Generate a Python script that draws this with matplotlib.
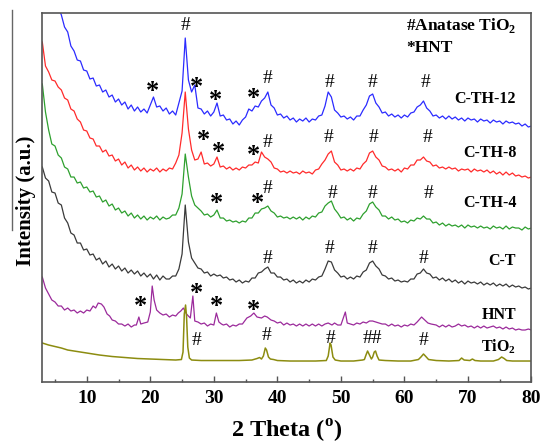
import numpy as np
import matplotlib
matplotlib.use("Agg")
import matplotlib.pyplot as plt
from matplotlib.lines import Line2D
from matplotlib.ticker import MultipleLocator

plt.rcParams['font.family'] = ['Liberation Serif', 'DejaVu Serif']
plt.rcParams['mathtext.fontset'] = 'custom'
plt.rcParams['mathtext.rm'] = 'Liberation Serif'
plt.rcParams['mathtext.bf'] = 'Liberation Serif:bold'

# ---- 2-theta scan grid for the composite samples (0.5 deg step) ----
theta = np.arange(3.0, 80.01, 0.5)

c_th_12 = [442, 428, 419, 402, 394, 375, 367, 355, 350, 336,
           331, 322, 321, 312, 311, 303, 304, 296, 297, 290,
           292, 285, 287, 280, 283, 277, 280, 273, 277, 271,
           275, 270, 273, 269, 277, 285, 275, 276, 271, 274,
           268, 271, 267, 279, 291, 344, 302, 290, 297, 274,
           273, 268, 271, 266, 270, 279, 266, 267, 262, 263,
           258, 261, 257, 262, 265, 273, 271, 276, 275, 281,
           284, 290, 277, 274, 267, 268, 264, 266, 262, 264,
           260, 263, 261, 264, 260, 263, 262, 266, 267, 276,
           290, 285, 272, 269, 265, 266, 263, 265, 262, 266,
           266, 272, 277, 286, 288, 279, 275, 269, 270, 266,
           268, 265, 267, 264, 267, 265, 269, 270, 275, 277,
           281, 274, 271, 266, 267, 264, 266, 263, 266, 263,
           265, 262, 264, 261, 264, 262, 263, 260, 263, 261,
           262, 259, 262, 260, 261, 258, 261, 259, 260, 258,
           259, 256, 258, 255, 256]

c_th_8 = [340, 316, 310, 302, 301, 295, 292, 284, 282, 273,
          271, 263, 260, 252, 251, 244, 243, 236, 236, 230,
          232, 226, 227, 221, 223, 217, 220, 214, 217, 212,
          215, 211, 214, 210, 213, 211, 214, 210, 213, 211,
          214, 213, 219, 227, 249, 290, 253, 232, 222, 223,
          230, 218, 219, 216, 218, 225, 215, 216, 213, 215,
          212, 214, 212, 215, 214, 217, 217, 220, 219, 230,
          225, 223, 220, 214, 213, 210, 211, 209, 211, 209,
          210, 208, 211, 209, 210, 208, 212, 213, 218, 222,
          228, 231, 220, 217, 212, 213, 211, 213, 211, 214,
          213, 218, 221, 229, 231, 225, 222, 216, 215, 212,
          213, 211, 213, 210, 214, 213, 217, 217, 222, 222,
          225, 221, 220, 216, 217, 214, 215, 213, 215, 213,
          214, 211, 213, 212, 213, 210, 213, 211, 212, 210,
          212, 209, 211, 208, 210, 207, 210, 207, 209, 206,
          207, 205, 206, 204, 205]

c_th_4 = [298, 270, 252, 238, 236, 227, 224, 215, 213, 205,
          205, 199, 200, 194, 195, 190, 191, 185, 186, 180,
          182, 176, 178, 172, 174, 169, 171, 166, 169, 164,
          167, 163, 166, 162, 165, 163, 166, 162, 165, 163,
          164, 167, 167, 174, 188, 228, 205, 186, 177, 174,
          171, 167, 168, 165, 167, 172, 164, 164, 161, 162,
          160, 161, 159, 161, 160, 164, 164, 169, 169, 173,
          174, 176, 171, 169, 165, 166, 164, 165, 163, 165,
          163, 165, 162, 165, 163, 166, 165, 169, 170, 176,
          179, 181, 173, 169, 164, 165, 162, 164, 161, 164,
          163, 168, 171, 178, 180, 175, 172, 166, 166, 163,
          165, 162, 163, 160, 161, 159, 162, 161, 164, 163,
          166, 163, 163, 159, 160, 157, 159, 156, 158, 156,
          157, 155, 157, 154, 157, 155, 156, 154, 156, 154,
          155, 153, 156, 154, 155, 153, 156, 153, 155, 154,
          154, 152, 155, 153, 154]

c_t = [215, 204, 201, 190, 189, 179, 177, 164, 159, 149,
       147, 139, 139, 132, 133, 127, 128, 122, 124, 118,
       121, 115, 118, 113, 116, 111, 114, 109, 112, 108,
       111, 106, 109, 105, 108, 103, 107, 102, 106, 103,
       103, 106, 106, 113, 128, 177, 140, 124, 119, 114,
       113, 109, 110, 106, 108, 106, 107, 104, 105, 102,
       103, 100, 102, 99, 101, 100, 104, 104, 109, 110,
       113, 115, 109, 109, 105, 105, 102, 103, 100, 102,
       99, 101, 99, 102, 100, 103, 102, 105, 106, 113,
       121, 120, 112, 109, 105, 106, 103, 105, 103, 106,
       105, 110, 112, 119, 121, 116, 113, 107, 106, 103,
       104, 101, 102, 100, 101, 100, 103, 103, 108, 109,
       113, 109, 108, 104, 105, 102, 104, 101, 103, 100,
       102, 99, 101, 98, 101, 99, 100, 98, 100, 97,
       99, 97, 99, 96, 98, 96, 98, 95, 97, 95,
       96, 94, 95, 93, 94]

# ---- HNT (halloysite) pattern ----
hnt_theta = [3.0, 3.5, 4.0, 4.5, 5.0, 5.5, 6.0, 6.5, 7.0, 7.5, 8.0, 8.5, 9.0, 9.5,
             10.0, 10.5, 11.0, 11.4, 11.8, 12.3, 12.7, 13.2, 13.6, 14.0, 14.5, 15.0,
             15.5, 16.0, 16.5, 17.0, 17.5, 17.8, 18.2, 18.5, 19.0, 19.6, 20.0, 20.3,
             20.6, 21.0, 21.5, 22.0, 22.5, 23.0, 23.5, 24.0, 24.4, 24.8, 25.2, 25.7,
             26.3, 26.7, 27.0, 27.5, 28.0, 28.5, 29.0, 29.5, 30.0, 30.4, 30.8, 31.2,
             31.5, 32.0, 32.5, 33.0, 33.5, 34.0, 34.5, 35.2, 35.8, 36.3, 36.8, 37.5,
             38.0, 38.4, 39.0, 39.5, 40.0, 40.5, 41.0, 41.5, 42.0, 42.5, 43.0, 43.5,
             44.0, 44.5, 45.0, 45.5, 46.0, 46.5, 47.0, 47.5, 48.0, 48.6, 49.0, 49.5,
             50.0, 50.7, 51.0, 51.5, 52.0, 52.5, 53.0, 53.5, 54.0, 54.5, 55.0, 55.5,
             56.0, 56.5, 57.0, 57.5, 58.0, 58.5, 59.0, 59.5, 60.0, 60.5, 61.0, 61.5,
             62.0, 62.7, 63.2, 63.7, 64.2, 65.0, 65.5, 66.0, 66.5, 67.0, 67.5, 68.0,
             68.5, 69.0, 69.5, 70.0, 70.5, 71.0, 71.5, 72.0, 72.5, 73.0, 73.5, 74.0,
             74.5, 75.0, 75.5, 76.0, 76.5, 77.0, 77.5, 78.0, 78.5, 79.0, 79.5, 80.0]
hnt = [105, 94, 88, 82, 80, 76, 76, 72, 74, 71, 72, 69, 71, 69,
       72, 71, 76, 74, 79, 78, 75, 68, 66, 62, 61, 58,
       58, 56, 58, 55, 57, 57, 65, 58, 59, 60, 70, 96,
       82, 72, 69, 67, 68, 65, 67, 66, 69, 71, 74, 68,
       64, 86, 61, 60, 58, 59, 56, 58, 57, 69, 60, 58,
       57, 58, 55, 57, 56, 58, 58, 64, 66, 69, 65, 64,
       66, 65, 62, 61, 59, 60, 57, 59, 57, 58, 56, 58,
       56, 58, 56, 58, 56, 58, 56, 58, 59, 57, 59, 57,
       57, 70, 59, 58, 57, 59, 58, 60, 59, 61, 61, 60,
       59, 58, 58, 56, 58, 56, 57, 55, 57, 56, 58, 57,
       60, 65, 62, 59, 58, 57, 55, 57, 55, 57, 55, 56,
       58, 56, 57, 55, 56, 54, 56, 54, 56, 54, 55, 56,
       54, 55, 53, 55, 53, 54, 52, 53, 52, 52, 53, 52]

# ---- anatase TiO2 pattern ----
tio2_theta = [3.0, 4.0, 5.0, 6.0, 7.0, 8.0, 9.0, 10.0, 12.0, 14.0, 16.0, 18.0, 20.0,
              22.0, 24.0, 24.9, 25.15, 25.35, 25.55, 25.7, 25.9, 26.15, 26.5, 28.0,
              30.0, 32.0, 34.0, 36.0, 36.8, 37.2, 37.5, 37.8, 38.1, 38.3, 38.6, 38.9,
              39.4, 40.0, 42.0, 44.0, 46.0, 47.7, 48.0, 48.3, 48.45, 48.75, 49.1, 50.0,
              52.0, 53.4, 53.7, 53.95, 54.2, 54.5, 54.8, 55.0, 55.25, 55.45, 55.7, 56.0,
              57.0, 59.0, 61.0, 62.2, 62.6, 63.0, 63.3, 63.8, 65.0, 67.0, 68.6, 69.0,
              69.4, 70.3, 70.7, 71.1, 72.0, 74.0, 74.8, 75.3, 75.7, 76.1, 77.0, 80.0]
tio2 = [39, 37, 35.5, 34, 32, 31, 30, 29, 27, 25.5, 24.5, 23.5, 23,
        22.5, 22, 22.5, 30, 68, 77, 66, 35, 24, 22, 21.5,
        21.5, 21.5, 21.5, 22, 23.5, 24.5, 23, 26, 34, 32, 25, 23,
        22.5, 21.5, 21, 21, 21, 21.5, 26, 39, 37, 25, 22, 21,
        21, 22, 22.5, 27, 31, 27, 23, 25, 30, 31, 26, 22,
        21.5, 21, 21, 22.5, 25, 28, 26, 22.5, 21.5, 21, 21.5, 24,
        22, 21.5, 23, 21.5, 21, 21, 22.5, 25, 23.5, 21.5, 21, 21]

series = [
    (theta, c_th_12, '#2b2bff', 0.9),
    (theta, c_th_8, '#ff2b2b', 0.9),
    (theta, c_th_4, '#2ea02e', 0.9),
    (theta, c_t, '#3a3a3a', 0.9),
    (hnt_theta, hnt, '#9b2a9b', 0.9),
    (tio2_theta, tio2, '#8c8c10', 1.1),
]

curve_labels = ['C-TH-12', 'C-TH-8', 'C-TH-4', 'C-T', 'HNT', r'TiO$_\mathbf{2}$']
curve_label_y = [283, 229, 179, 121, 67, 35]

# peak markers: (symbol, 2theta, height)
markers = [
    ('*', 20.4, 294), ('#', 25.6, 357), ('*', 27.3, 298), ('*', 30.3, 285),
    ('*', 36.3, 287), ('#', 38.4, 304), ('#', 48.2, 300), ('#', 55.0, 300), ('#', 63.3, 300),
    ('*', 28.3, 245), ('*', 30.8, 233), ('*', 36.3, 230), ('#', 38.4, 240),
    ('#', 48.0, 245), ('#', 55.2, 245), ('#', 63.7, 245),
    ('*', 30.5, 182), ('*', 36.8, 182), ('#', 38.5, 194), ('#', 48.7, 189),
    ('#', 55.0, 189), ('#', 63.8, 189),
    ('#', 38.4, 124), ('#', 48.2, 134), ('#', 55.0, 134), ('#', 63.0, 124),
    ('*', 18.4, 79), ('*', 27.2, 92), ('*', 30.5, 79), ('*', 36.3, 75),
    ('#', 27.2, 42), ('#', 38.3, 47), ('#', 48.4, 44), ('##', 55.0, 44), ('#', 63.0, 42),
]

fig = plt.figure(figsize=(5.43, 4.44), dpi=100)
ax = fig.add_axes([0.0779, 0.1396, 0.9009, 0.8311])

for xs, ys, col, lw in series:
    ax.plot(xs, ys, color=col, lw=lw)

for lab, yy in zip(curve_labels, curve_label_y):
    ax.text(77.6, yy, lab, ha='right', va='center', fontsize=11.5, fontweight='bold')

for sym, xx, yy in markers:
    if sym == '*':
        ax.text(xx, yy - 3, '*', ha='center', va='center', fontsize=19, fontweight='bold')
    else:
        ax.text(xx, yy, sym, ha='center', va='center', fontsize=14)

ax.text(60.3, 357, r'#Anatase TiO$_\mathbf{2}$', ha='left', va='center',
        fontsize=12.5, fontweight='bold')
ax.text(60.3, 334, '*HNT', ha='left', va='center', fontsize=12.5, fontweight='bold')

ax.set_xlim(3, 80)
ax.set_ylim(0, 369)
ax.xaxis.set_major_locator(MultipleLocator(10))
ax.xaxis.set_minor_locator(MultipleLocator(5))
ax.tick_params(axis='x', which='major', direction='in', length=4, width=1,
               pad=6, labelsize=14, color='#555555')
ax.tick_params(axis='x', which='minor', direction='in', length=2.5, width=1,
               color='#555555')
for lab in ax.get_xticklabels():
    lab.set_fontweight('bold')
ax.set_yticks([])
for sp in ax.spines.values():
    sp.set_color('#555555')
    sp.set_linewidth(1.2)

ax.set_xlabel(r'2 Theta ($^\mathbf{o}$)', fontsize=17.5, fontweight='bold', labelpad=8)
ax.set_ylabel('Intensity (a.u.)', fontsize=15, fontweight='bold')
ax.yaxis.set_label_coords(-0.012, 0.49)

fig.add_artist(Line2D([0.0221, 0.0221], [0.977, 0.482], color='#666666', lw=1.0,
                      transform=fig.transFigure))

fig.savefig('out.png', dpi=100)
